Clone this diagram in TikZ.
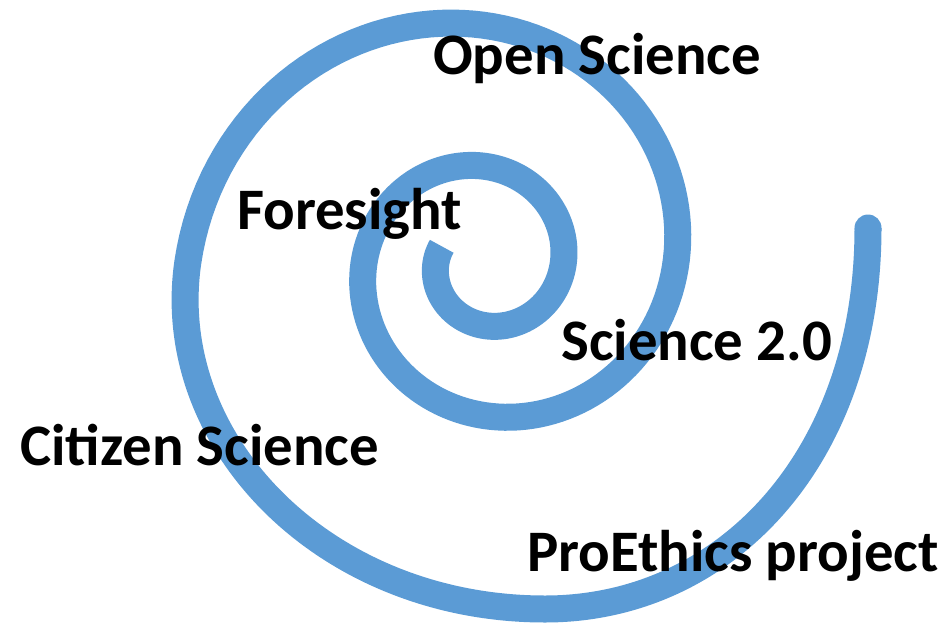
\documentclass[tikz,border=0pt]{standalone}
\usepackage{fontspec}
\setmainfont{Carlito}
\definecolor{spiralblue}{HTML}{5B9BD5}
\begin{document}
\begin{tikzpicture}[x=1pt,y=-1pt,
  lbl/.style={font=\fontsize{58.8}{61}\selectfont\bfseries, anchor=base west, inner sep=0pt, text=black},
  spiral/.style={draw=spiralblue, line width=27pt, line cap=butt, line join=round}]
\useasboundingbox (0,0) rectangle (949,623);
\draw[spiral]
  plot[domain=-3.518:9.42478, samples=300, variable=\t]
    ({485.5+77.7*exp(0.1426*\t)*cos(\t r)}, {263.6-77.7*exp(0.1426*\t)*sin(\t r)})
  .. controls (162,442) and (325,609) .. (545,609)
  .. controls (725,609) and (868,458) .. (868,228);
\fill[spiralblue] (868,228) circle (13.5pt);
\node[lbl] (open) at (433,75) {Open Science};
\node[lbl] (fore) at (237,229) {Foresight};
\node[lbl] (sci2) at (561,360) {Science 2.0};
\node[lbl] (cit) at (20,465) {Citizen Science};
\node[lbl] (pro) at (527,571) {ProEthics project};
\end{tikzpicture}
\end{document}
